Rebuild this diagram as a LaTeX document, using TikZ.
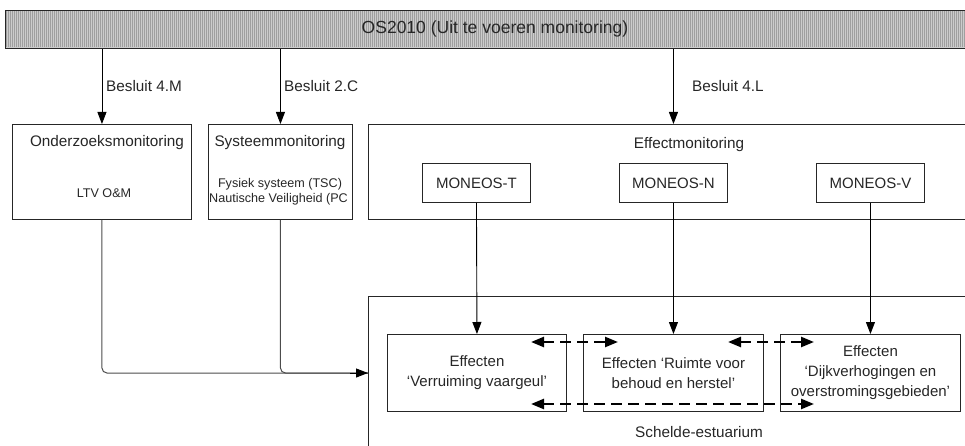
\documentclass[tikz,border=0pt]{standalone}
\usepackage{fontspec}
\setmainfont{Liberation Sans}
\usetikzlibrary{arrows.meta}
\begin{document}
\begin{tikzpicture}[x=1pt,y=-1pt,
  box/.style={draw=black!85, line width=0.9pt, inner sep=0pt, anchor=north west, align=center,
              font=\fontsize{15}{20}\selectfont, text=black!85},
  txt/.style={inner sep=0pt, font=\fontsize{15.3}{18}\selectfont, text=black!85},
  small/.style={inner sep=0pt, font=\fontsize{12.6}{15}\selectfont, text=black!85},
  arr/.style={draw=black, line width=0.9pt, -{Triangle[length=12pt,width=9pt]}},
  feed/.style={draw=black!70, line width=1pt, rounded corners=5pt},
  dasharr/.style={draw=black, line width=2.4pt, dash pattern=on 11pt off 6pt,
              {Triangle[length=13pt,width=10pt]}-{Triangle[length=13pt,width=10pt]}}
]
\useasboundingbox (0,0) rectangle (965,446);
\clip (0,0) rectangle (965,446);

% top bar
\node[box, fill=gray!40, minimum width=990pt, minimum height=38pt] (bar) at (5,10) {};
\foreach \i in {6,8,...,994} \draw[gray!75, line width=0.8pt] (\i,10.6) -- (\i,47.4);
\draw[black!85, line width=0.9pt] (5,10) rectangle (995,48);
\node[inner sep=0pt, font=\fontsize{17.5}{20}\selectfont, text=black!85] (os) at (495,29) {OS2010 (Uit te voeren monitoring)};

% second row boxes
\node[box, minimum width=179pt, minimum height=95pt] (onder) at (12,124) {};
\node[box, minimum width=144pt, minimum height=95pt] (sys) at (208,124) {};
\node[box, minimum width=610pt, minimum height=95pt] (eff) at (368,124) {};

\node[txt] (onderT) at (107,143) {Onderzoeksmonitoring};
\node[small] (ltv) at (104,193) {LTV O\&M};
\node[txt] (sysT) at (280,143) {Systeemmonitoring};
\node[small] (fys) at (280,184) {Fysiek systeem (TSC)};
\node[small] (naut) at (278.5,199) {Nautische Veiligheid (PC};
\node[txt] (effT) at (689,145) {Effectmonitoring};

% MONEOS
\node[box, minimum width=108pt, minimum height=39pt] (mt) at (422,163) {MONEOS-T};
\node[box, minimum width=108pt, minimum height=39pt] (mn) at (619,163) {MONEOS-N};
\node[box, minimum width=108pt, minimum height=39pt] (mv) at (816,163) {MONEOS-V};

% Schelde box
\node[box, minimum width=680pt, minimum height=180pt] (schelde) at (368,296) {};
\node[txt] (scheldeT) at (699,432) {Schelde-estuarium};

% effect boxes
\node[box, minimum width=179pt, minimum height=77pt] (e1) at (387,334) {Effecten\\‘Verruiming vaargeul’};
\node[box, minimum width=180pt, minimum height=77pt] (e2) at (583,334) {Effecten ‘Ruimte voor\\behoud en herstel’};
\node[box, minimum width=180pt, minimum height=77pt] (e3) at (780,334) {Effecten\\‘Dijkverhogingen en\\overstromingsgebieden’};

% arrows from bar
\draw[arr] (onder.north |- bar.south) -- (onder.north);
\draw[arr] (sys.north |- bar.south) -- (sys.north);
\draw[arr] (eff.north |- bar.south) -- (eff.north);
\node[txt, anchor=west] (b1) at (106,86) {Besluit 4.M};
\node[txt, anchor=west] (b2) at (284,86) {Besluit 2.C};
\node[txt, anchor=west] (b3) at (692,86) {Besluit 4.L};

% MONEOS to effects
\draw[arr] (mt.south) -- (e1.north);
\draw[arr] (mn.south) -- (e2.north);
\draw[arr] (mv.south) -- (e3.north);

% feeds into Schelde
\coordinate (in) at (368,373);
\draw[feed] (onder.south) |- (in);
\draw[feed] (sys.south) |- (in);
\draw[black, line width=1pt, -{Triangle[length=12pt,width=9pt]}] (350,373) -- (in);

% dashed interactions
\coordinate (d1a) at (531,342);
\coordinate (d1b) at (618,342);
\coordinate (d2a) at (728,342);
\coordinate (d2b) at (814,342);
\coordinate (d3a) at (531,404);
\coordinate (d3b) at (814,404);
\draw[dasharr] (d1a) -- (d1b);
\draw[dasharr] (d2a) -- (d2b);
\draw[dasharr] (d3a) -- (d3b);
\end{tikzpicture}
\end{document}
